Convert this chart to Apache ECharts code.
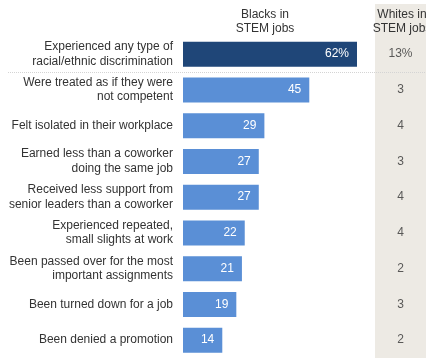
<!DOCTYPE html>
<html><head><meta charset="utf-8">
<script src="https://cdn.jsdelivr.net/npm/echarts@6/dist/echarts.min.js"></script>
<style>html,body{margin:0;padding:0;background:#fff}#c{width:426px;height:358px}</style>
</head><body><div id="c"></div>
<script>
var categories = [
  "Experienced any type of\nracial/ethnic discrimination",
  "Were treated as if they were\nnot competent",
  "Felt isolated in their workplace",
  "Earned less than a coworker\ndoing the same job",
  "Received less support from\nsenior leaders than a coworker",
  "Experienced repeated,\nsmall slights at work",
  "Been passed over for the most\nimportant assignments",
  "Been turned down for a job",
  "Been denied a promotion"
];
var blacksValues = [62, 45, 29, 27, 27, 22, 21, 19, 14];
var whitesValues = [13, 3, 4, 3, 4, 4, 2, 3, 2];
var headerBlacks = "Blacks in\nSTEM jobs";
var headerWhites = "Whites in\nSTEM jobs";

var FONT = "Liberation Sans";
var chart = echarts.init(document.getElementById('c'), null, {renderer:'canvas'});
var gridTop = 36.3, gridHeight = 327.6;
chart.setOption({
  animation:false,
  textStyle:{fontFamily:FONT},
  graphic:[
    {type:'rect', shape:{x:375,y:4,width:60,height:360}, style:{fill:'#edeae4'}, z:-10},
    {type:'line', shape:{x1:8,y1:72.5,x2:426,y2:72.5}, style:{stroke:'#d4d4d4',lineWidth:1,lineDash:[1,1]}, z:-5},
    {type:'text', x:265, y:7, style:{text:headerBlacks, fill:'#333', font:'12px '+FONT, textAlign:'center', lineHeight:14.5}},
    {type:'text', x:402, y:7, style:{text:headerWhites, fill:'#333', font:'12px '+FONT, textAlign:'center', lineHeight:14.5}}
  ],
  grid:[
    {left:183, top:gridTop, width:174, height:gridHeight},
    {left:375, top:gridTop, width:51, height:gridHeight}
  ],
  xAxis:[
    {gridIndex:0, type:'value', min:0, max:62, show:false},
    {gridIndex:1, type:'value', min:0, max:1, show:false}
  ],
  yAxis:[
    {gridIndex:0, type:'category', data:categories, inverse:true,
     axisLine:{show:false}, axisTick:{show:false},
     axisLabel:{margin:10, color:'#333', fontSize:12, lineHeight:14.5, fontFamily:FONT}},
    {gridIndex:1, type:'category', data:categories, inverse:true, show:false}
  ],
  series:[
    {type:'bar', xAxisIndex:0, yAxisIndex:0, barWidth:25,
     data: blacksValues.map(function(v,i){return {value:v, itemStyle:{color: i===0?'#1f4678':'#5a8fd6'}};}),
     label:{show:true, position:'insideRight', distance:8, color:'#fff', fontSize:12, fontFamily:FONT,
       formatter:function(p){return p.dataIndex===0 ? p.value+'%' : p.value;}}},
    {type:'scatter', xAxisIndex:1, yAxisIndex:1, symbolSize:10, itemStyle:{color:'rgba(0,0,0,0)'},
     data: whitesValues.map(function(v,i){return {value:[0.5, i]};}),
     label:{show:true, position:'inside', color:'#333', fontSize:12, fontFamily:FONT,
       formatter:function(p){return p.dataIndex===0 ? whitesValues[p.dataIndex]+'%' : whitesValues[p.dataIndex];}}}
  ]
});
</script></body></html>
